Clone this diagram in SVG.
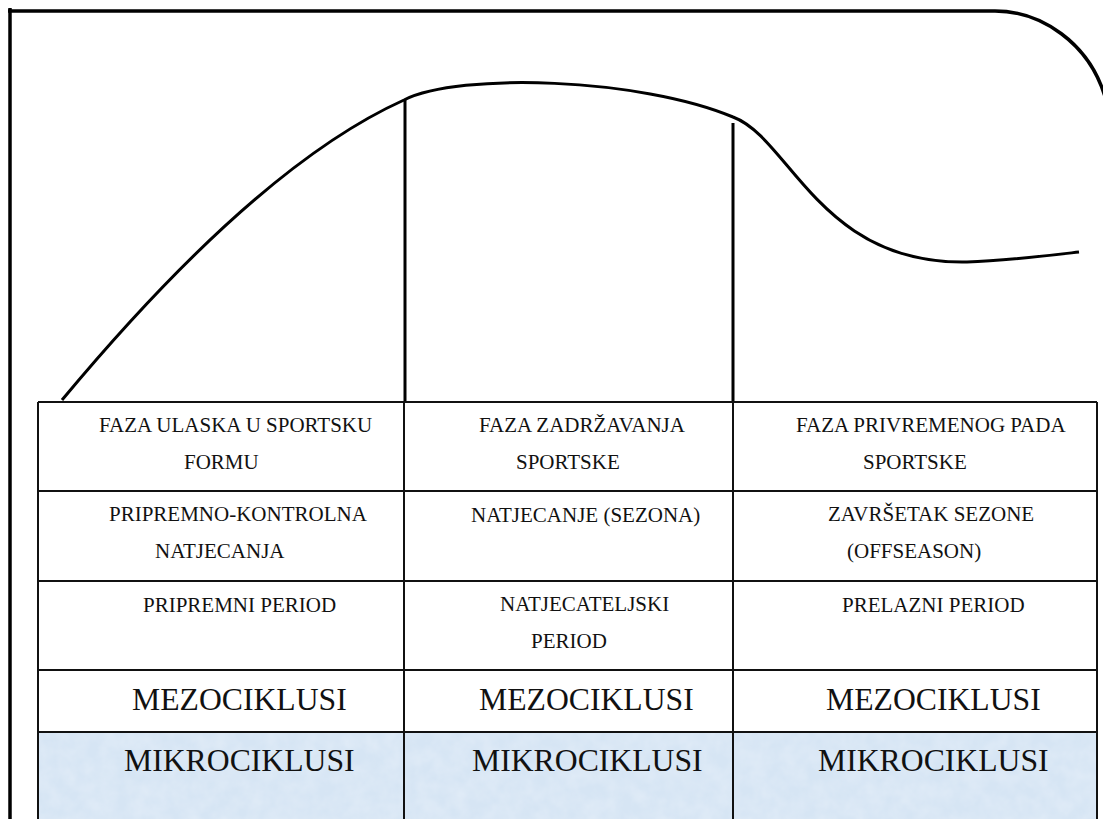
<svg xmlns="http://www.w3.org/2000/svg" width="1103" height="819" viewBox="0 0 1103 819">
<style>
.thick{fill:none;stroke:#000;stroke-width:3.5;stroke-linecap:butt}
.grid{fill:none;stroke:#111;stroke-width:2}
.s{font-family:"Liberation Serif","Times New Roman",serif;font-size:21px;fill:#111}
.b{font-family:"Liberation Serif","Times New Roman",serif;font-size:31.7px;fill:#111}
</style>
<defs>
<filter id="mottle" x="0" y="0" width="100%" height="100%">
<feTurbulence type="fractalNoise" baseFrequency="0.06" numOctaves="3" seed="4" result="n"/>
<feColorMatrix in="n" type="matrix" values="0 0 0 0 0.80  0 0 0 0 0.87  0 0 0 0 0.95  0 0 0 0.9 -0.25" result="c"/>
<feComposite in="c" in2="SourceGraphic" operator="in"/>
</filter>
</defs>
<rect width="1103" height="819" fill="#fff"/>
<g id="frame">
<path class="thick" d="M10,8 V819"/>
<path class="thick" d="M8,11 H995 C1040,11 1090,42 1106,100"/>
</g>
<g id="curve">
<path class="thick" style="stroke-width:3" d="M62,400 C162,280 284,154 404,100 C460,72 640,78 733,117 C790,138 820,265 967,262 C1005,261 1045,256 1079,252"/>
</g>
<g id="connectors">
<line class="thick" style="stroke-width:3" x1="405" y1="100" x2="405" y2="402"/>
<line class="thick" style="stroke-width:3" x1="733" y1="123" x2="733" y2="402"/>
</g>
<g id="table">
<rect x="38" y="732" width="1059" height="90" fill="#d6e5f4"/>
<rect x="38" y="732" width="1059" height="90" fill="#d6e5f4" filter="url(#mottle)"/>
<path class="grid" d="M38,402 H1097 M38,491 H1097 M38,581 H1097 M38,670 H1097 M38,732 H1097 M38,402 V819 M1097,402 V819 M404,402 V819 M733,402 V819"/>
</g>
<g id="c1">
<text class="s" x="99" y="432">FAZA ULASKA U SPORTSKU</text>
<text class="s" x="184" y="469">FORMU</text>
<text class="s" x="109" y="521">PRIPREMNO-KONTROLNA</text>
<text class="s" x="155" y="558">NATJECANJA</text>
<text class="s" x="143" y="612">PRIPREMNI PERIOD</text>
<text class="b" x="132" y="710">MEZOCIKLUSI</text>
<text class="b" x="124" y="771">MIKROCIKLUSI</text>
</g>
<g id="c2">
<text class="s" x="479" y="432">FAZA ZADRŽAVANJA</text>
<text class="s" x="516" y="469">SPORTSKE</text>
<text class="s" x="471" y="522">NATJECANJE (SEZONA)</text>
<text class="s" x="500" y="611">NATJECATELJSKI</text>
<text class="s" x="531" y="648">PERIOD</text>
<text class="b" x="479" y="710">MEZOCIKLUSI</text>
<text class="b" x="472" y="771">MIKROCIKLUSI</text>
</g>
<g id="c3">
<text class="s" x="796" y="432">FAZA PRIVREMENOG PADA</text>
<text class="s" x="863" y="469">SPORTSKE</text>
<text class="s" x="828" y="521">ZAVRŠETAK SEZONE</text>
<text class="s" x="847" y="558">(OFFSEASON)</text>
<text class="s" x="842" y="612">PRELAZNI PERIOD</text>
<text class="b" x="826" y="710">MEZOCIKLUSI</text>
<text class="b" x="818" y="771">MIKROCIKLUSI</text>
</g>
</svg>
